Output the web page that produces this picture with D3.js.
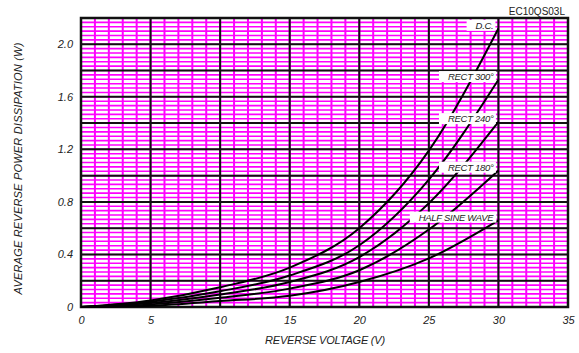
<!DOCTYPE html>
<html>
<head>
<meta charset="utf-8">
<script src="https://cdn.jsdelivr.net/npm/d3@7"></script>
<style>
  body { margin: 0; background: #fff; }
  text { font-family: "Liberation Sans", Arial, sans-serif; }
</style>
</head>
<body>
<div id="chart"></div>
<script>
// values at 5 V steps
var voltage = [0, 5, 10, 15, 20, 25, 30];
var dcValues = [0, 0.05, 0.15, 0.30, 0.60, 1.19, 2.12];
var rect300Values = [0, 0.04, 0.12, 0.24, 0.47, 0.97, 1.73];
var rect240Values = [0, 0.03, 0.095, 0.19, 0.38, 0.79, 1.41];
var rect180Values = [0, 0.02, 0.07, 0.14, 0.28, 0.59, 1.04];
var halfSineValues = [0, 0.01, 0.045, 0.085, 0.19, 0.37, 0.66];
var seriesNames = ["D.C.", "RECT 300\u00b0", "RECT 240\u00b0", "RECT 180\u00b0", "HALF SINE WAVE"];

var xTicks = [0, 5, 10, 15, 20, 25, 30, 35];
var yTicks = [0, 0.4, 0.8, 1.2, 1.6, 2.0];
var yTickLabels = ["0", "0.4", "0.8", "1.2", "1.6", "2.0"];

var width = 579, height = 353;
var margin = { top: 18, right: 11, bottom: 46, left: 81 };
var w = width - margin.left - margin.right,
    h = height - margin.top - margin.bottom;

var svg = d3.select("#chart").append("svg")
    .attr("width", width)
    .attr("height", height);

var g = svg.append("g")
    .attr("transform", "translate(" + margin.left + "," + margin.top + ")");

var x = d3.scaleLinear().domain([0, 35]).range([0, w]);
var y = d3.scaleLinear().domain([0, 2.2]).range([h, 0]);

// minor grid (magenta)
g.append("g").selectAll("line")
    .data(d3.range(1, 35))
    .enter().append("line")
    .attr("x1", function (d) { return x(d); })
    .attr("x2", function (d) { return x(d); })
    .attr("y1", 0).attr("y2", h)
    .attr("stroke", "#ff00ff").attr("stroke-width", 2);

g.append("g").selectAll("line")
    .data(d3.range(1, 66).map(function (i) { return i * 0.2 / 6; }))
    .enter().append("line")
    .attr("y1", function (d) { return y(d); })
    .attr("y2", function (d) { return y(d); })
    .attr("x1", 0).attr("x2", w)
    .attr("stroke", "#ff00ff").attr("stroke-width", 1.6);

// major grid (black)
g.append("g").selectAll("line")
    .data(d3.range(5, 35, 5))
    .enter().append("line")
    .attr("x1", function (d) { return x(d); })
    .attr("x2", function (d) { return x(d); })
    .attr("y1", 0).attr("y2", h)
    .attr("stroke", "#111").attr("stroke-width", 2);

g.append("g").selectAll("line")
    .data(d3.range(1, 11).map(function (i) { return i * 0.2; }))
    .enter().append("line")
    .attr("y1", function (d) { return y(d); })
    .attr("y2", function (d) { return y(d); })
    .attr("x1", 0).attr("x2", w)
    .attr("stroke", "#111").attr("stroke-width", 2);

// frame
g.append("rect")
    .attr("width", w).attr("height", h)
    .attr("fill", "none")
    .attr("stroke", "#111").attr("stroke-width", 2.5);

// curves
var allSeries = [dcValues, rect300Values, rect240Values, rect180Values, halfSineValues];

var line = d3.line()
    .x(function (d, i) { return x(voltage[i]); })
    .y(function (d) { return y(d); })
    .curve(d3.curveMonotoneX);

g.append("g").selectAll("path")
    .data(allSeries)
    .enter().append("path")
    .attr("d", line)
    .attr("fill", "none")
    .attr("stroke", "#000")
    .attr("stroke-width", 2);

// curve labels on white boxes
var labels = g.append("g").selectAll("g")
    .data(allSeries)
    .enter().append("g");

labels.append("text")
    .attr("x", x(30) - 5)
    .attr("y", function (d) { return y(d[d.length - 1]) - 3; })
    .attr("dy", "0.35em")
    .attr("text-anchor", "end")
    .attr("font-size", 9.5)
    .attr("font-style", "italic")
    .attr("letter-spacing", -0.3)
    .attr("fill", "#222")
    .text(function (d, i) { return seriesNames[i]; });

labels.each(function () {
    var t = d3.select(this).select("text");
    var b = t.node().getBBox();
    d3.select(this).insert("rect", "text")
        .attr("x", b.x - 9)
        .attr("y", b.y)
        .attr("width", b.width + 11)
        .attr("height", b.height)
        .attr("fill", "#fff");
});

// axes
var xAxis = g.append("g")
    .attr("transform", "translate(0," + h + ")")
    .call(d3.axisBottom(x).tickValues(xTicks).tickSize(0).tickPadding(9));
xAxis.select(".domain").remove();
xAxis.selectAll("text")
    .attr("font-size", 11)
    .attr("font-style", "italic")
    .attr("fill", "#222");

var yAxis = g.append("g")
    .call(d3.axisLeft(y).tickValues(yTicks).tickSize(0).tickPadding(8)
        .tickFormat(function (d, i) { return yTickLabels[i]; }));
yAxis.select(".domain").remove();
yAxis.selectAll("text")
    .attr("font-size", 11)
    .attr("font-style", "italic")
    .attr("fill", "#222");

// titles
svg.append("text")
    .attr("x", 325)
    .attr("y", 344)
    .attr("text-anchor", "middle")
    .attr("font-size", 11)
    .attr("font-style", "italic")
    .attr("letter-spacing", -0.2)
    .attr("fill", "#222")
    .text("REVERSE VOLTAGE (V)");

svg.append("text")
    .attr("transform", "translate(22," + (margin.top + h / 2 + 6) + ") rotate(-90)")
    .attr("text-anchor", "middle")
    .attr("font-size", 11)
    .attr("font-style", "italic")
    .attr("letter-spacing", 0.2)
    .attr("fill", "#222")
    .text("AVERAGE REVERSE POWER DISSIPATION (W)");

svg.append("text")
    .attr("x", 565)
    .attr("y", 15)
    .attr("text-anchor", "end")
    .attr("font-size", 10)
    .attr("fill", "#222")
    .text("EC10QS03L");
</script>
</body>
</html>
